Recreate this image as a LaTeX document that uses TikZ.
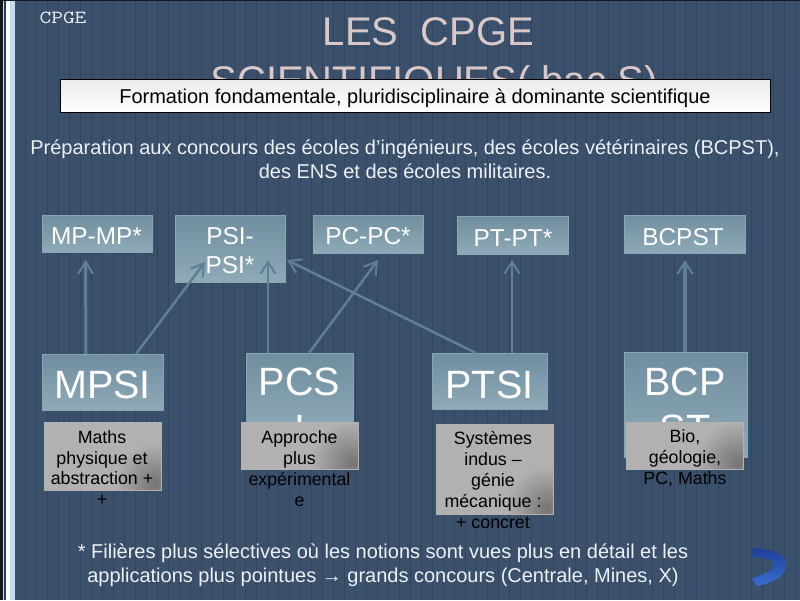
\documentclass[tikz,border=0pt]{standalone}
\usepackage{fontspec}
\usepackage{graphicx}
\setmainfont{Liberation Sans}
\usetikzlibrary{arrows.meta,calc}
\definecolor{bgc}{HTML}{3A506B}
\definecolor{stripec}{HTML}{2F4560}
\definecolor{titlec}{HTML}{D9C8C8}
\definecolor{txtc}{HTML}{EDF1F5}
\definecolor{boxtop}{HTML}{6F8E9F}
\definecolor{boxbot}{HTML}{8FAAB8}
\definecolor{boxedge}{HTML}{8AA5B3}
\definecolor{linkc}{HTML}{5F8094}
\definecolor{greyc}{HTML}{B2B0B1}
\definecolor{greyd}{HTML}{777573}
\definecolor{banddark}{HTML}{1D3B6E}
\definecolor{bandlight}{HTML}{C5DBF0}
\definecolor{icontop}{HTML}{1F3F9A}
\definecolor{iconbot}{HTML}{3A6FD0}
\newcommand{\fs}[2]{\fontsize{#1}{#2}\selectfont}
\tikzset{
  x=1pt,y=-1pt,
  bluebox/.style={draw=boxedge,line width=.6pt,top color=boxtop,bottom color=boxbot,inner sep=0pt,outer sep=0pt,anchor=north west},
  greybox/.style={draw=gray!60,line width=.6pt,fill=greyc,inner sep=0pt,outer sep=0pt,anchor=north west},
  smalllab/.style={text=white,font=\fs{24.4}{29},align=center,inner sep=0pt},
  biglab/.style={text=white,font=\fs{39.5}{47},align=center,inner sep=0pt},
  greylab/.style={text=black,font=\fs{17.8}{20.9},align=center,inner sep=0pt},
  bodytext/.style={text=txtc,font=\fs{20}{24.4},align=center,inner sep=0pt},
  link/.style={draw=linkc,line width=#1,-{Bar[width=0pt,line width=0pt,sep=0pt]Straight Barb[length=12pt,width=15pt,line width=2pt]}},
  link/.default=2.5pt
}
\newcommand{\greyshade}[1]{%
  \begin{scope}
    \clip (#1.north west) rectangle (#1.south east);
    \shade[inner color=greyd,outer color=greyc] ($(#1.south east)+(-6,-6)$) circle[radius=42pt];
  \end{scope}
  \draw[draw=gray!60,line width=.6pt] (#1.north west) rectangle (#1.south east);
}
\begin{document}
\begin{tikzpicture}
\useasboundingbox (0,0) rectangle (800,600);
\fill[bgc] (0,0) rectangle (800,600);
% vertical stripes
\foreach \k in {0,...,70} \draw[stripec,line width=.9pt] ({25.7+11*\k},0) -- ({25.7+11*\k},600);
% left band
\fill[black!70!bgc] (0,0) rectangle (3,600);
\fill[white!80!bgc] (3,0) rectangle (3.8,600);
\fill[banddark] (3.8,0) rectangle (6,600);
\fill[white] (6,0) rectangle (9.5,600);
\fill[bandlight] (9.5,0) rectangle (15,600);
\fill[black!70!bgc] (0,0) rectangle (800,1);
% header
\node[text=txtc,font=\ttfamily\fs{18.5}{18.5},inner sep=0pt] (tag) at (63,18) {\scalebox{1.23}[1]{CPGE}};
\node[text=titlec,font=\fs{40}{49},align=center,inner sep=0pt] (title) at (434,60) {LES\ \ CPGE\hspace*{11pt}\\SCIENTIFIQUES( bac S)};
\node[draw=black,line width=.8pt,top color=black!8,bottom color=white,inner sep=0pt,outer sep=0pt,anchor=north west,minimum width=710pt,minimum height=33pt,text height=14pt,text depth=0pt,font=\fs{20}{22},text=black] (banner) at (60,79.5) {Formation fondamentale, pluridisciplinaire à dominante scientifique};
\node[bodytext] (intro) at (405,159) {Préparation aux concours des écoles d’ingénieurs, des écoles vétérinaires (BCPST),\\des ENS et des écoles militaires.};
% upper boxes
\node[bluebox,minimum width=110pt,minimum height=37pt] (mp) at (42,215) {};
\node[bluebox,minimum width=110pt,minimum height=67pt] (psi) at (175.5,215) {};
\node[bluebox,minimum width=110pt,minimum height=38pt] (pc) at (313,215) {};
\node[bluebox,minimum width=111pt,minimum height=38pt] (pt) at (457,216) {};
\node[bluebox,minimum width=121pt,minimum height=38pt] (bc) at (624,215) {};
\node[smalllab] (mpt) at (96.5,236) {MP-MP*};
\node[smalllab] (psit) at (230,250.5) {PSI-\\PSI*};
\node[smalllab] (pct) at (368,236) {PC-PC*};
\node[smalllab] (ptt) at (513,238) {PT-PT*};
\node[smalllab] (bct) at (683,237) {BCPST};
% lower boxes
\node[bluebox,minimum width=121pt,minimum height=56pt] (mpsi) at (42.5,354) {};
\node[bluebox,minimum width=107pt,minimum height=80pt] (pcsi) at (246,353) {};
\node[bluebox,minimum width=115pt,minimum height=56pt] (ptsi) at (432,353) {};
\node[bluebox,minimum width=123pt,minimum height=105pt] (bcpst) at (624,352) {};
\node[biglab] (mpsit) at (102.5,385) {MPSI};
\node[biglab] (pcsit) at (299.5,405.5) {PCS\\I};
\node[biglab] (ptsit) at (489.5,385) {PTSI};
\node[biglab] (bcpstt) at (685,405) {BCP\\ST};
% connectors
\draw[link=3pt] ([xshift=43.5pt]mpsi.north west) -- ([xshift=43.5pt,yshift=-8pt]mp.south west);
\draw[link] ([xshift=93.5pt]mpsi.north west) -- ([xshift=29.5pt,yshift=-13.5pt]psi.west);
\draw[link] ([xshift=22pt]pcsi.north west) -- ([xshift=92.5pt,yshift=22pt]psi.south west);
\draw[link] ([xshift=63pt]pcsi.north west) -- ([xshift=65pt,yshift=-7pt]pc.south west);
\draw[link] ([xshift=44pt]ptsi.north west) -- ([xshift=1.5pt,yshift=22pt]psi.south east);
\draw[link] ([xshift=80pt]ptsi.north west) -- ([xshift=55pt,yshift=-6pt]pt.south west);
\draw[link=3.5pt] ([xshift=61pt]bcpst.north west) -- ([xshift=61pt,yshift=-7pt]bc.south west);
% grey boxes
\node[greybox,minimum width=117pt,minimum height=68pt] (g1) at (44,422) {};
\node[greybox,minimum width=117pt,minimum height=47pt] (g2) at (241,422) {};
\node[greybox,minimum width=117pt,minimum height=90pt] (g3) at (436,424) {};
\node[greybox,minimum width=117pt,minimum height=47pt] (g4) at (626,422) {};
\greyshade{g1}\greyshade{g2}\greyshade{g3}\greyshade{g4}
\node[greylab] (g1t) at (102,468) {Maths\\physique et\\abstraction +\\+};
\node[greylab] (g2t) at (299.5,468.5) {Approche\\plus\\expérimental\\e};
\node[greylab] (g3t) at (493,480) {Systèmes\\indus –\\génie\\mécanique :\\+ concret};
\node[greylab] (g4t) at (685,458) {Bio,\\géologie,\\PC, Maths};
% footnote
\node[bodytext] (note) at (383,565) {* Filières plus sélectives où les notions sont vues plus en détail et les\\applications plus pointues → grands concours (Centrale, Mines, X)};
% return icon
\path[top color=icontop,bottom color=iconbot] (752,548) .. controls (770,549) and (785,553) .. (786,564) .. controls (786,577) and (772,583) .. (757,586) -- (752,578) .. controls (765,574) and (773,571) .. (774,564) .. controls (774,560) and (765,557) .. (752,557) -- cycle;
\end{tikzpicture}
\end{document}
